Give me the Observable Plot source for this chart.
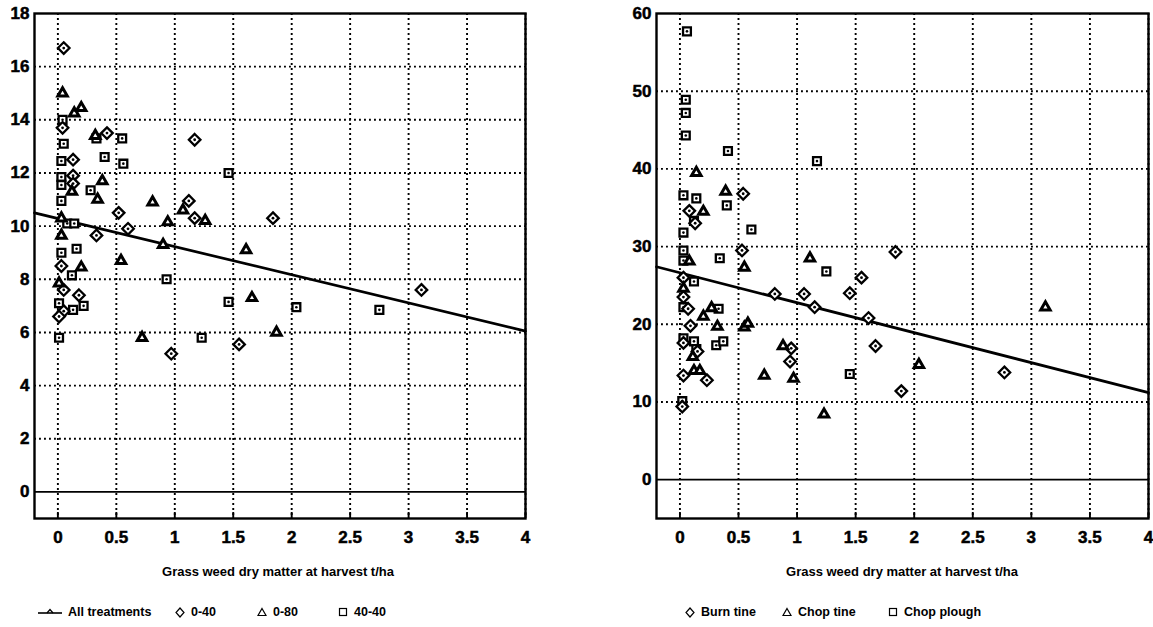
<!DOCTYPE html>
<html><head><meta charset="utf-8">
<script src="https://cdn.jsdelivr.net/npm/d3@7"></script>
<script src="https://cdn.jsdelivr.net/npm/@observablehq/plot@0.6"></script>
<style>
body{margin:0;background:#fff;}
#wrap{position:relative;width:1153px;height:627px;overflow:hidden;font-family:"Liberation Sans",Arial,sans-serif;font-weight:bold;color:#000;background:#fff;}
.panel{position:absolute;top:0;}
.xtitle{position:absolute;font-size:13px;white-space:nowrap;transform:translate(-50%,-50%);}
.li{position:absolute;font-size:12.5px;white-space:nowrap;display:flex;align-items:center;transform:translateY(-50%);}
.li svg{margin-right:6px;}
</style></head><body><div id="wrap"></div>
<script>
// ---- shared axis data ----
const xTicks = [0, 0.5, 1, 1.5, 2, 2.5, 3, 3.5, 4];
const xDomain = [-0.2, 4];
const xTitle = "Grass weed dry matter at harvest t/ha";

// ---- left panel ----
const leftYTicks = [0, 2, 4, 6, 8, 10, 12, 14, 16, 18];
const leftYDomain = [-1, 18];
const leftFit = [[-0.2, 10.5], [4, 6.05]];
const leftNames = ["All treatments", "0-40", "0-80", "40-40"];
const left040 = [[0.05,16.7],[0.04,13.7],[0.42,13.5],[1.17,13.25],[0.13,12.5],[0.13,11.9],[0.13,11.6],[1.12,10.95],[0.52,10.5],[1.17,10.3],[1.84,10.3],[0.6,9.9],[0.33,9.65],[0.03,8.5],[0.05,7.6],[0.18,7.4],[0.05,6.8],[0.01,6.6],[0.97,5.2],[1.55,5.55],[3.11,7.6]];
const left080 = [[0.04,15.0],[0.14,14.25],[0.2,14.45],[0.32,13.4],[0.38,11.7],[0.12,11.3],[0.34,11.0],[0.81,10.9],[1.07,10.6],[1.26,10.2],[0.94,10.15],[0.03,10.3],[0.03,9.65],[0.9,9.3],[1.61,9.1],[0.54,8.7],[0.2,8.45],[0.01,7.85],[1.66,7.3],[0.72,5.8],[1.87,6.0]];
const left4040 = [[0.04,14.0],[0.33,13.3],[0.55,13.3],[0.05,13.1],[0.4,12.6],[0.03,12.45],[0.56,12.35],[1.46,12.0],[0.03,11.85],[0.03,11.55],[0.28,11.35],[0.03,10.95],[0.08,10.1],[0.14,10.1],[0.03,9.0],[0.16,9.15],[0.12,8.15],[0.93,8.0],[1.46,7.15],[0.22,7.0],[0.01,7.1],[0.13,6.85],[0.01,5.8],[1.23,5.8],[2.04,6.95],[2.75,6.85]];

// ---- right panel ----
const rightYTicks = [0, 10, 20, 30, 40, 50, 60];
const rightYDomain = [-5, 60];
const rightFit = [[-0.2, 27.4], [4, 11.2]];
const rightNames = ["Burn tine", "Chop tine", "Chop plough"];
const rightBurn = [[0.54,36.8],[0.08,34.6],[0.13,33.0],[0.53,29.5],[1.84,29.3],[1.55,26.0],[0.03,26.0],[0.81,23.9],[1.06,23.9],[1.45,24.0],[0.03,23.5],[1.15,22.2],[0.07,22.0],[0.09,19.8],[0.03,17.6],[0.15,16.5],[0.95,16.9],[0.94,15.2],[0.03,13.4],[0.23,12.8],[0.02,9.4],[1.61,20.8],[1.67,17.2],[1.89,11.4],[2.77,13.8]];
const rightChopTine = [[0.14,39.5],[0.39,37.1],[0.2,34.5],[1.11,28.5],[0.08,28.1],[0.55,27.3],[0.03,24.6],[0.27,22.1],[0.2,21.0],[0.32,19.7],[0.55,19.6],[0.58,20.1],[0.11,15.8],[0.88,17.2],[0.12,14.0],[0.17,14.0],[0.72,13.4],[0.97,13.0],[1.23,8.4],[2.04,14.8],[3.12,22.2]];
const rightChopPlough = [[0.06,57.7],[0.05,48.9],[0.05,47.2],[0.05,44.3],[0.41,42.3],[1.17,41.0],[0.03,36.6],[0.14,36.2],[0.4,35.3],[0.12,33.3],[0.61,32.2],[0.03,31.8],[0.03,29.5],[0.34,28.5],[0.03,28.2],[1.25,26.8],[0.12,25.5],[0.03,22.2],[0.33,22.0],[0.03,18.2],[0.12,17.8],[0.31,17.3],[0.37,17.8],[0.14,16.8],[1.45,13.6],[0.02,10.1]];

const H = 560, MT = 13, MB = 42;
const FONT = "'Liberation Sans', Arial, sans-serif";
const TICK_FONT = 17;
const dotted = {stroke: "#000", strokeOpacity: 1, strokeWidth: 1.9, strokeDasharray: "1.9,3.1"};

function makePanel({width, marginLeft, marginRight, yDomain, yTicks, fit, diamonds, triangles, squares}) {
  const plotH = H - MT - MB;
  const gridY = yTicks.filter(t => t !== 0 && t < yDomain[1]);
  const X = d => d[0], Y = d => d[1];
  const svg = Plot.plot({
    width, height: H, marginLeft, marginRight, marginTop: MT, marginBottom: MB,
    style: {fontFamily: FONT, fontSize: TICK_FONT + "px", fontWeight: "bold", background: "transparent", color: "#000"},
    x: {domain: xDomain},
    y: {domain: yDomain},
    marks: [
      Plot.gridX(xTicks, dotted),
      Plot.gridY(gridY, dotted),
      Plot.ruleY([0], {stroke: "#000", strokeWidth: 1.9}),
      Plot.ruleX(xTicks, {stroke: "#000", strokeWidth: 1.9, insetTop: plotH - 6}),
      Plot.line(fit, {x: X, y: Y, stroke: "#000", strokeWidth: 2.7}),
      Plot.dot(squares, {x: X, y: Y, symbol: "square2", r: 5, stroke: "#000", strokeWidth: 2.3, fill: "#fff"}),
      Plot.dot(squares, {x: X, y: Y, r: 1.3, fill: "#000"}),
      Plot.dot(diamonds, {x: X, y: Y, symbol: "diamond2", r: 5.2, stroke: "#000", strokeWidth: 2.3, fill: "#fff"}),
      Plot.dot(diamonds, {x: X, y: Y, r: 1.4, fill: "#000"}),
      Plot.dot(triangles, {x: X, y: Y, symbol: "triangle2", r: 4.5, stroke: "#000", strokeWidth: 3, fill: "#fff"}),
      Plot.frame({stroke: "#000", strokeWidth: 2.4}),
      Plot.axisX(xTicks, {tickSize: 0, tickPadding: 12, fontSize: TICK_FONT, fontWeight: "bold", tickFormat: d => String(d)}),
      Plot.axisY(yTicks, {tickSize: 0, tickPadding: 5, fontSize: TICK_FONT, fontWeight: "bold", tickFormat: d => String(d)})
    ]
  });
  // enforce tick label typography on every text node and its group
  svg.querySelectorAll("g").forEach(g => {
    if (g.querySelector("text")) {
      g.setAttribute("font-size", TICK_FONT);
      g.setAttribute("font-weight", "bold");
      g.setAttribute("font-family", FONT);
    }
  });
  svg.querySelectorAll("text").forEach(t => {
    t.setAttribute("font-size", TICK_FONT);
    t.style.fontSize = TICK_FONT + "px";
    t.style.fontWeight = "bold";
    t.style.fontFamily = FONT;
    t.style.fill = "#000";
    t.style.stroke = "#000";
    t.style.strokeWidth = "0.5px";
  });
  return svg;
}

const wrap = document.getElementById("wrap");

function place(node, left) {
  node.classList.add("panel");
  node.style.left = left + "px";
  wrap.appendChild(node);
}

place(makePanel({width: 576, marginLeft: 34, marginRight: 51, yDomain: leftYDomain, yTicks: leftYTicks, fit: leftFit, diamonds: left040, triangles: left080, squares: left4040}), 0);
place(makePanel({width: 577, marginLeft: 80, marginRight: 5, yDomain: rightYDomain, yTicks: rightYTicks, fit: rightFit, diamonds: rightBurn, triangles: rightChopTine, squares: rightChopPlough}), 576);

function addText(cls, text, left, top) {
  const d = document.createElement("div");
  d.className = cls;
  d.textContent = text;
  d.style.left = left + "px";
  d.style.top = top + "px";
  wrap.appendChild(d);
  return d;
}
addText("xtitle", xTitle, 278, 571);
addText("xtitle", xTitle, 902, 571);

const shapes = {
  line: '<svg width="24" height="10" viewBox="0 0 24 10"><line x1="0" y1="6" x2="24" y2="6" stroke="#000" stroke-width="1.6"/><path d="M9 6 L12 2.5 L15 6" fill="none" stroke="#000" stroke-width="1.2"/></svg>',
  diamond: '<svg width="10" height="11" viewBox="0 0 10 11"><path d="M5 1 L9 5.5 L5 10 L1 5.5 Z" fill="none" stroke="#000" stroke-width="1.2"/></svg>',
  triangle: '<svg width="10" height="10" viewBox="0 0 10 10"><path d="M5 1.5 L9 8.5 L1 8.5 Z" fill="none" stroke="#000" stroke-width="1.2"/></svg>',
  square: '<svg width="10" height="10" viewBox="0 0 10 10"><rect x="1.5" y="1.5" width="7" height="7" fill="none" stroke="#000" stroke-width="1.2"/></svg>'
};
function legendItem(shape, text, left, top) {
  const d = document.createElement("div");
  d.className = "li";
  d.innerHTML = shapes[shape] + "<span></span>";
  d.querySelector("span").textContent = text;
  d.style.left = left + "px";
  d.style.top = top + "px";
  wrap.appendChild(d);
}
const LY = 612;
legendItem("line", leftNames[0], 38, LY);
legendItem("diamond", leftNames[1], 175, LY);
legendItem("triangle", leftNames[2], 257, LY);
legendItem("square", leftNames[3], 338, LY);
legendItem("diamond", rightNames[0], 685, LY);
legendItem("triangle", rightNames[1], 782, LY);
legendItem("square", rightNames[2], 888, LY);
</script></body></html>
